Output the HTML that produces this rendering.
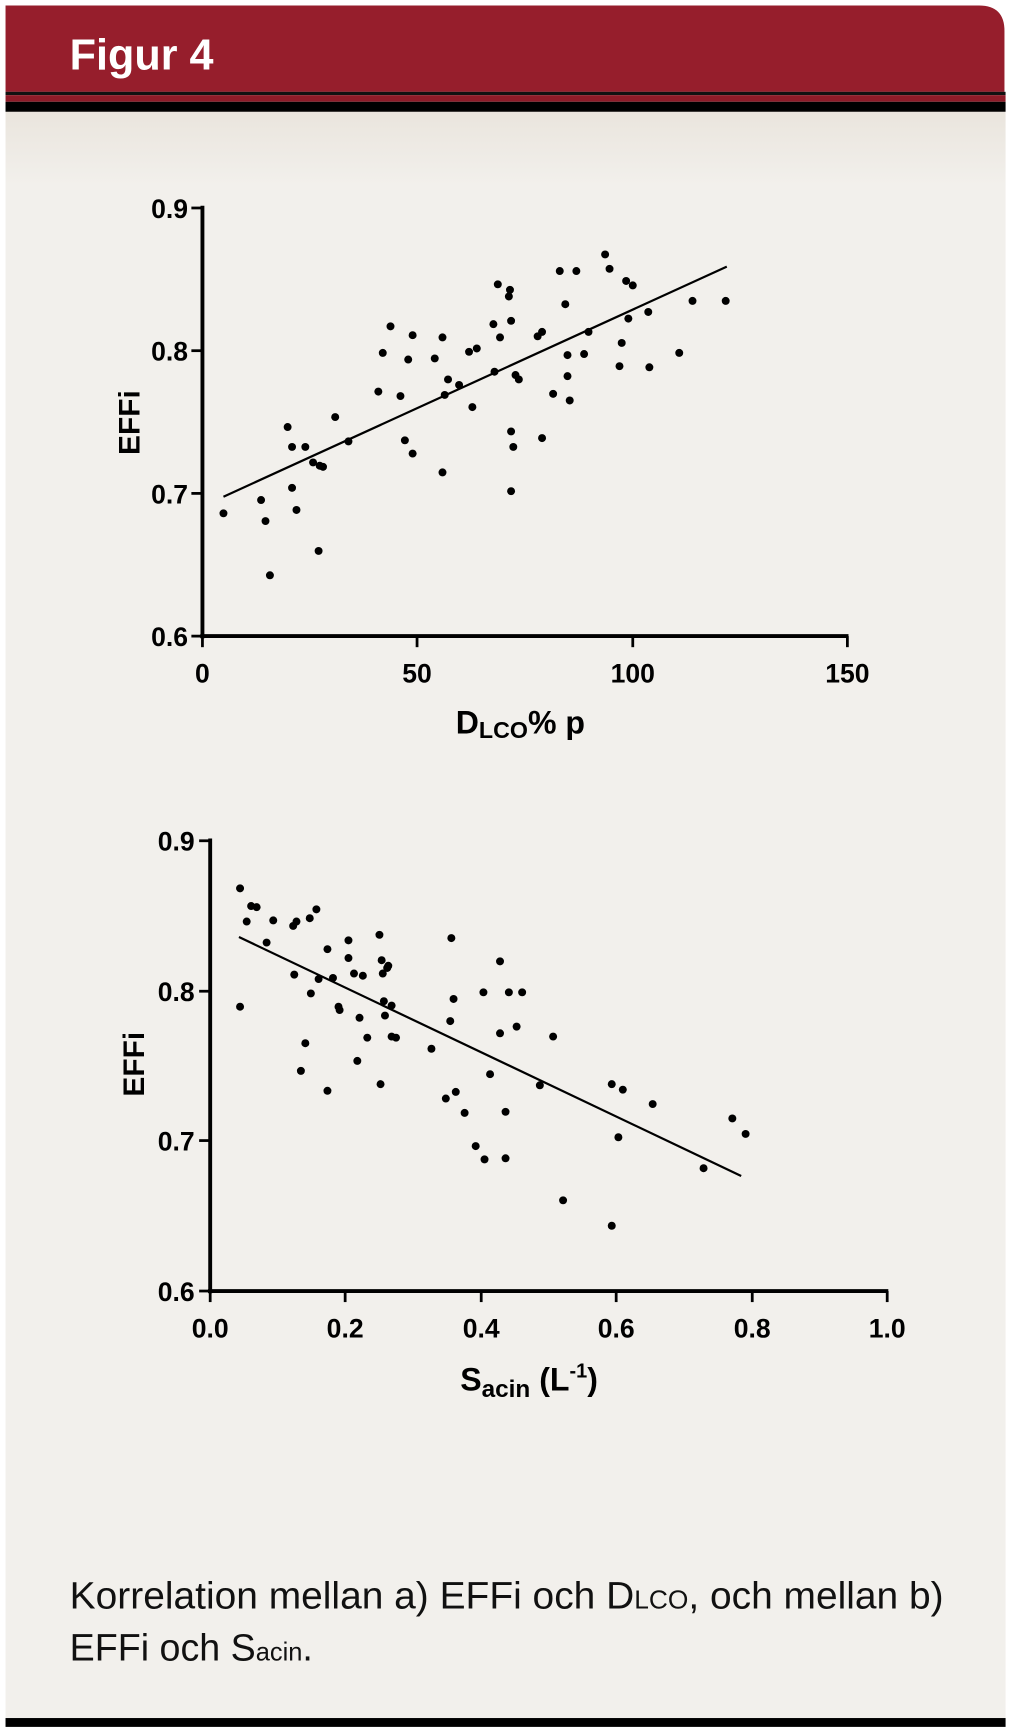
<!DOCTYPE html>
<html><head><meta charset="utf-8"><style>
html,body{margin:0;padding:0;background:#fff;}
svg{display:block;}
text{font-family:"Liberation Sans",sans-serif;}
</style></head><body>
<svg width="1010" height="1728" viewBox="0 0 913 1562" preserveAspectRatio="none" xmlns="http://www.w3.org/2000/svg">
<defs>
<linearGradient id="bg" x1="0" y1="0" x2="0" y2="1"><stop offset="0" stop-color="#e9e4dc"/><stop offset="0.05" stop-color="#f2f0ec"/><stop offset="1" stop-color="#f2f0ec"/></linearGradient>
</defs>
<rect x="0" y="0" width="913" height="1562" fill="#fff"/>
<rect x="5" y="95" width="904" height="1462" fill="url(#bg)"/>
<path d="M5 5 H885 Q908 5 908 28 V83 H5 Z" fill="#961e2c"/>
<rect x="5" y="83" width="904" height="3" fill="#111"/>
<rect x="5" y="86" width="904" height="6" fill="#8e1b28"/>
<rect x="5" y="92" width="904" height="9" fill="#000"/>
<rect x="5" y="1553" width="904" height="8" fill="#000"/>
<text x="63" y="63" font-size="39" font-weight="bold" fill="#fff">Figur 4</text>

<!-- Chart 1 -->
<g stroke="#000" stroke-width="3.5" fill="none">
<line x1="183" y1="186" x2="183" y2="577"/>
<line x1="181" y1="575" x2="767" y2="575"/>
</g>
<g stroke="#000" stroke-width="2.5">
<line x1="173" y1="188" x2="183" y2="188"/><line x1="173" y1="317" x2="183" y2="317"/><line x1="173" y1="446" x2="183" y2="446"/><line x1="173" y1="575" x2="183" y2="575"/>
<line x1="183" y1="575" x2="183" y2="585"/><line x1="377" y1="575" x2="377" y2="585"/><line x1="572" y1="575" x2="572" y2="585"/><line x1="766" y1="575" x2="766" y2="585"/>
</g>
<g font-size="24" font-weight="bold" text-anchor="end">
<text x="170" y="197">0.9</text><text x="170" y="326">0.8</text><text x="170" y="455">0.7</text><text x="170" y="584">0.6</text>
</g>
<g font-size="24" font-weight="bold" text-anchor="middle">
<text x="183" y="617">0</text><text x="377" y="617">50</text><text x="572" y="617">100</text><text x="766" y="617">150</text>
</g>
<text x="0" y="0" font-size="27" font-weight="bold" text-anchor="middle" transform="translate(126 382) rotate(-90)">EFFi</text>
<text x="412" y="663" font-size="29" font-weight="bold">D<tspan font-size="21" dy="4">LCO</tspan><tspan dy="-4">% p</tspan></text>
<line x1="202" y1="449" x2="657" y2="241" stroke="#000" stroke-width="2"/>
<g fill="#000">
<circle cx="202" cy="464" r="3.6"/><circle cx="236" cy="452" r="3.6"/><circle cx="240" cy="471" r="3.6"/><circle cx="244" cy="520" r="3.6"/><circle cx="260" cy="386" r="3.6"/><circle cx="264" cy="404" r="3.6"/><circle cx="264" cy="441" r="3.6"/><circle cx="268" cy="461" r="3.6"/><circle cx="276" cy="404" r="3.6"/><circle cx="283" cy="418" r="3.6"/><circle cx="288" cy="498" r="3.6"/><circle cx="289" cy="421" r="3.6"/><circle cx="292" cy="422" r="3.6"/><circle cx="303" cy="377" r="3.6"/><circle cx="315" cy="399" r="3.6"/><circle cx="342" cy="354" r="3.6"/><circle cx="346" cy="319" r="3.6"/><circle cx="353" cy="295" r="3.6"/><circle cx="362" cy="358" r="3.6"/><circle cx="366" cy="398" r="3.6"/><circle cx="369" cy="325" r="3.6"/><circle cx="373" cy="410" r="3.6"/><circle cx="373" cy="303" r="3.6"/><circle cx="393" cy="324" r="3.6"/><circle cx="400" cy="305" r="3.6"/><circle cx="400" cy="427" r="3.6"/><circle cx="402" cy="357" r="3.6"/><circle cx="405" cy="343" r="3.6"/><circle cx="415" cy="348" r="3.6"/><circle cx="424" cy="318" r="3.6"/><circle cx="427" cy="368" r="3.6"/><circle cx="431" cy="315" r="3.6"/><circle cx="446" cy="293" r="3.6"/><circle cx="447" cy="336" r="3.6"/><circle cx="452" cy="305" r="3.6"/><circle cx="450" cy="257" r="3.6"/><circle cx="460" cy="268" r="3.6"/><circle cx="461" cy="262" r="3.6"/><circle cx="462" cy="290" r="3.6"/><circle cx="462" cy="390" r="3.6"/><circle cx="462" cy="444" r="3.6"/><circle cx="464" cy="404" r="3.6"/><circle cx="466" cy="339" r="3.6"/><circle cx="469" cy="343" r="3.6"/><circle cx="486" cy="304" r="3.6"/><circle cx="490" cy="300" r="3.6"/><circle cx="490" cy="396" r="3.6"/><circle cx="500" cy="356" r="3.6"/><circle cx="506" cy="245" r="3.6"/><circle cx="511" cy="275" r="3.6"/><circle cx="513" cy="340" r="3.6"/><circle cx="513" cy="321" r="3.6"/><circle cx="515" cy="362" r="3.6"/><circle cx="521" cy="245" r="3.6"/><circle cx="528" cy="320" r="3.6"/><circle cx="532" cy="300" r="3.6"/><circle cx="547" cy="230" r="3.6"/><circle cx="551" cy="243" r="3.6"/><circle cx="560" cy="331" r="3.6"/><circle cx="562" cy="310" r="3.6"/><circle cx="566" cy="254" r="3.6"/><circle cx="568" cy="288" r="3.6"/><circle cx="572" cy="258" r="3.6"/><circle cx="586" cy="282" r="3.6"/><circle cx="587" cy="332" r="3.6"/><circle cx="614" cy="319" r="3.6"/><circle cx="626" cy="272" r="3.6"/><circle cx="656" cy="272" r="3.6"/>
</g>

<!-- Chart 2 -->
<g stroke="#000" stroke-width="3.5" fill="none">
<line x1="190" y1="758" x2="190" y2="1169"/>
<line x1="188" y1="1167" x2="803" y2="1167"/>
</g>
<g stroke="#000" stroke-width="2.5">
<line x1="180" y1="760" x2="190" y2="760"/><line x1="180" y1="896" x2="190" y2="896"/><line x1="180" y1="1031" x2="190" y2="1031"/><line x1="180" y1="1167" x2="190" y2="1167"/>
<line x1="190" y1="1167" x2="190" y2="1177"/><line x1="312" y1="1167" x2="312" y2="1177"/><line x1="435" y1="1167" x2="435" y2="1177"/><line x1="557" y1="1167" x2="557" y2="1177"/><line x1="680" y1="1167" x2="680" y2="1177"/><line x1="802" y1="1167" x2="802" y2="1177"/>
</g>
<g font-size="24" font-weight="bold" text-anchor="end">
<text x="176" y="769">0.9</text><text x="176" y="905">0.8</text><text x="176" y="1040">0.7</text><text x="176" y="1176">0.6</text>
</g>
<g font-size="24" font-weight="bold" text-anchor="middle">
<text x="190" y="1209">0.0</text><text x="312" y="1209">0.2</text><text x="435" y="1209">0.4</text><text x="557" y="1209">0.6</text><text x="680" y="1209">0.8</text><text x="802" y="1209">1.0</text>
</g>
<text x="0" y="0" font-size="27" font-weight="bold" text-anchor="middle" transform="translate(130 962) rotate(-90)">EFFi</text>
<text x="416" y="1257" font-size="29" font-weight="bold">S<tspan font-size="22" dy="6">acin</tspan><tspan dy="-6"> (L</tspan><tspan font-size="18" dy="-12">-1</tspan><tspan dy="12">)</tspan></text>
<line x1="216" y1="847" x2="670" y2="1063" stroke="#000" stroke-width="2"/>
<g fill="#000">
<circle cx="217" cy="910" r="3.6"/><circle cx="217" cy="803" r="3.6"/><circle cx="223" cy="833" r="3.6"/><circle cx="227" cy="819" r="3.6"/><circle cx="232" cy="820" r="3.6"/><circle cx="241" cy="852" r="3.6"/><circle cx="247" cy="832" r="3.6"/><circle cx="265" cy="837" r="3.6"/><circle cx="266" cy="881" r="3.6"/><circle cx="268" cy="833" r="3.6"/><circle cx="272" cy="968" r="3.6"/><circle cx="276" cy="943" r="3.6"/><circle cx="280" cy="830" r="3.6"/><circle cx="281" cy="898" r="3.6"/><circle cx="286" cy="822" r="3.6"/><circle cx="288" cy="885" r="3.6"/><circle cx="296" cy="986" r="3.6"/><circle cx="296" cy="858" r="3.6"/><circle cx="301" cy="884" r="3.6"/><circle cx="306" cy="910" r="3.6"/><circle cx="307" cy="913" r="3.6"/><circle cx="315" cy="866" r="3.6"/><circle cx="315" cy="850" r="3.6"/><circle cx="320" cy="880" r="3.6"/><circle cx="323" cy="959" r="3.6"/><circle cx="325" cy="920" r="3.6"/><circle cx="328" cy="882" r="3.6"/><circle cx="332" cy="938" r="3.6"/><circle cx="344" cy="980" r="3.6"/><circle cx="343" cy="845" r="3.6"/><circle cx="345" cy="868" r="3.6"/><circle cx="346" cy="880" r="3.6"/><circle cx="347" cy="905" r="3.6"/><circle cx="348" cy="918" r="3.6"/><circle cx="350" cy="875" r="3.6"/><circle cx="351" cy="873" r="3.6"/><circle cx="354" cy="909" r="3.6"/><circle cx="354" cy="937" r="3.6"/><circle cx="358" cy="938" r="3.6"/><circle cx="390" cy="948" r="3.6"/><circle cx="403" cy="993" r="3.6"/><circle cx="407" cy="923" r="3.6"/><circle cx="408" cy="848" r="3.6"/><circle cx="410" cy="903" r="3.6"/><circle cx="412" cy="987" r="3.6"/><circle cx="420" cy="1006" r="3.6"/><circle cx="430" cy="1036" r="3.6"/><circle cx="437" cy="897" r="3.6"/><circle cx="438" cy="1048" r="3.6"/><circle cx="443" cy="971" r="3.6"/><circle cx="452" cy="869" r="3.6"/><circle cx="452" cy="934" r="3.6"/><circle cx="457" cy="1005" r="3.6"/><circle cx="457" cy="1047" r="3.6"/><circle cx="460" cy="897" r="3.6"/><circle cx="467" cy="928" r="3.6"/><circle cx="472" cy="897" r="3.6"/><circle cx="500" cy="937" r="3.6"/><circle cx="488" cy="981" r="3.6"/><circle cx="509" cy="1085" r="3.6"/><circle cx="553" cy="980" r="3.6"/><circle cx="559" cy="1028" r="3.6"/><circle cx="563" cy="985" r="3.6"/><circle cx="590" cy="998" r="3.6"/><circle cx="636" cy="1056" r="3.6"/><circle cx="662" cy="1011" r="3.6"/><circle cx="674" cy="1025" r="3.6"/><circle cx="553" cy="1108" r="3.6"/>
</g>

<text x="63" y="1454" font-size="34" fill="#111" textLength="790" lengthAdjust="spacingAndGlyphs">Korrelation mellan a) EFFi och D<tspan font-size="23">LCO</tspan>, och mellan b)</text>
<text x="63" y="1501" font-size="34" fill="#111">EFFi och S<tspan font-size="23">acin</tspan>.</text>
</svg>
</body></html>
